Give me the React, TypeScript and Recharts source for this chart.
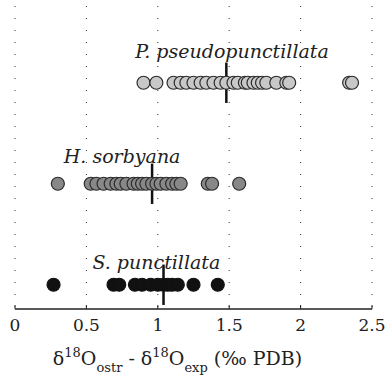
import {
  ComposedChart,
  Scatter,
  XAxis,
  YAxis,
  CartesianGrid,
  ReferenceLine,
  ReferenceDot,
} from "recharts";

const xTicks = [0, 0.5, 1, 1.5, 2, 2.5];

const species = ["P. pseudopunctillata", "H. sorbyana", "S. punctillata"];
const rows = [3, 2, 1];
const labelX = [1.52, 0.75, 0.99];
const labelRise = [0.31, 0.27, 0.22];
const means = [1.48, 0.96, 1.04];

const pseudoValues = [
  0.9, 0.99, 1.11, 1.16, 1.2, 1.25, 1.3, 1.34, 1.39, 1.44, 1.48, 1.53, 1.56,
  1.61, 1.63, 1.67, 1.7, 1.73, 1.76, 1.83, 1.9, 1.92, 2.34, 2.36,
];
const sorbyanaValues = [
  0.3, 0.53, 0.57, 0.62, 0.67, 0.71, 0.74, 0.78, 0.83, 0.86, 0.89, 0.92,
  0.96, 0.99, 1.02, 1.06, 1.1, 1.13, 1.16, 1.35, 1.38, 1.57,
];
const punctillataValues = [
  0.27, 0.69, 0.73, 0.84, 0.89, 0.95, 1.0, 1.04, 1.07, 1.1, 1.14, 1.25, 1.42,
];

const fills = ["#c8c8c8", "#888888", "#111111"];
const strokes = ["#2a2a2a", "#2a2a2a", "#111111"];

const toPoints = (values: number[], row: number) =>
  values.map((v) => ({ x: v, y: row }));

// Liberation Serif does not resolve here, DejaVu Serif does
const serif = "DejaVu Serif";

const makeDot = (fill: string, stroke: string) => (props: any) => {
  const { cx, cy } = props;
  return (
    <circle cx={cx} cy={cy} r={6.5} fill={fill} stroke={stroke} strokeWidth={1.2} />
  );
};

const AxisTitle = (props: any) => {
  const { x, y, width } = props.viewBox;
  return (
    <text
      x={x + width / 2 - 16}
      y={y + 56}
      textAnchor="middle"
      fontFamily={serif}
      fontSize={19}
      fill="#222"
    >
      δ
      <tspan dy={-8} fontSize={13}>18</tspan>
      <tspan dy={8}>O</tspan>
      <tspan dy={7} fontSize={13}>ostr</tspan>
      <tspan dy={-7}> - δ</tspan>
      <tspan dy={-8} fontSize={13}>18</tspan>
      <tspan dy={8}>O</tspan>
      <tspan dy={7} fontSize={13}>exp</tspan>
      <tspan dy={-7}> (‰ PDB)</tspan>
    </text>
  );
};

const SpeciesLabel = (props: any) => {
  const { viewBox, value } = props;
  const cx = viewBox.x + (viewBox.width || 0) / 2;
  const cy = viewBox.y + (viewBox.height || 0) / 2;
  return (
    <text
      x={cx}
      y={cy}
      dy="0.35em"
      textAnchor="middle"
      fontFamily={serif}
      fontStyle="italic"
      fontSize={19}
      fill="#222"
    >
      {value}
    </text>
  );
};

export default function App() {
  const series = [pseudoValues, sorbyanaValues, punctillataValues];
  return (
    <div style={{ position: "absolute", left: 0, top: 0 }}>
      <ComposedChart
        width={385}
        height={384}
        margin={{ top: 6, right: 13, bottom: 0, left: 15 }}
      >
        <CartesianGrid
          horizontal={false}
          vertical={true}
          stroke="#333"
          strokeDasharray="1 11"
        />
        <XAxis
          type="number"
          dataKey="x"
          domain={[0, 2.5]}
          ticks={xTicks}
          allowDataOverflow
          height={75}
          tickSize={-4}
          tickMargin={14}
          axisLine={{ stroke: "#222", strokeWidth: 1.5 }}
          tickLine={{ stroke: "#222" }}
          tick={{ fontSize: 17, fill: "#222", fontFamily: serif }}
          label={<AxisTitle />}
        />
        <XAxis
          xAxisId="top"
          orientation="top"
          type="number"
          dataKey="x"
          domain={[0, 2.5]}
          ticks={xTicks}
          height={0}
          tickSize={-4}
          tick={false}
          axisLine={{ stroke: "#222", strokeWidth: 1.5 }}
          tickLine={{ stroke: "#222" }}
        />
        <YAxis
          type="number"
          dataKey="y"
          domain={[0.76, 3.76]}
          width={0}
          tick={false}
          tickLine={false}
          axisLine={{ stroke: "#222", strokeWidth: 1.5 }}
        />
        <YAxis
          yAxisId="right"
          orientation="right"
          type="number"
          domain={[0.76, 3.76]}
          width={0}
          tick={false}
          tickLine={false}
          axisLine={{ stroke: "#222", strokeWidth: 1.5 }}
        />
        {series.map((values, i) => (
          <Scatter
            key={species[i]}
            data={toPoints(values, rows[i])}
            shape={makeDot(fills[i], strokes[i])}
            isAnimationActive={false}
          />
        ))}
        {means.map((m, i) => (
          <ReferenceLine
            key={"mean" + i}
            segment={[
              { x: m, y: rows[i] - 0.2 },
              { x: m, y: rows[i] + 0.2 },
            ]}
            stroke="#111"
            strokeWidth={2.5}
          />
        ))}
        {species.map((name, i) => (
          <ReferenceDot
            key={name}
            x={labelX[i]}
            y={rows[i] + labelRise[i]}
            r={0}
            fill="none"
            stroke="none"
            label={<SpeciesLabel value={name} />}
          />
        ))}
      </ComposedChart>
    </div>
  );
}
